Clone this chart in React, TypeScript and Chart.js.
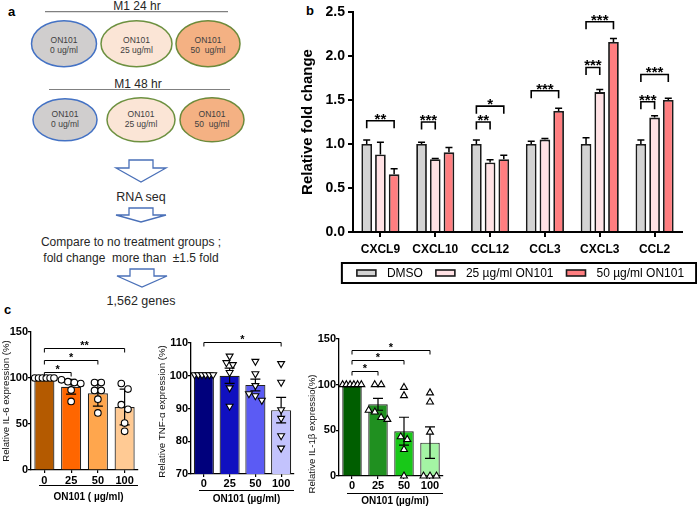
import React, { useEffect, useRef } from "react";
import { Chart, registerables } from "chart.js";

Chart.register(...registerables);

const FONT = "Arial, 'Liberation Sans', Helvetica, sans-serif";

// ---------------- Panel b data ----------------
const genes = ["CXCL9", "CXCL10", "CCL12", "CCL3", "CXCL3", "CCL2"];
const seriesNames = ["DMSO", "25 µg/ml ON101", "50 µg/ml ON101"];
const dmsoValues = [1, 1, 1, 1, 1, 1];
const on25Values = [0.88, 0.826, 0.79, 1.05, 1.59, 1.3];
const on50Values = [0.655, 0.905, 0.826, 1.375, 2.16, 1.5];
const dmsoErr = [0.045, 0.02, 0.045, 0.03, 0.07, 0.045];
const on25Err = [0.14, 0.01, 0.03, 0.012, 0.03, 0.02];
const on50Err = [0.065, 0.055, 0.045, 0.03, 0.04, 0.02];
const bColors = ["#d3d3d3", "#ffe1e4", "#ff7e80"];
// [gene index, from series, to series, bracket height, label]
const bBrackets: [number, number, number, number, string][] = [
  [0, 0, 2, 1.265, "**"],
  [1, 0, 1, 1.25, "***"],
  [2, 0, 1, 1.25, "**"],
  [2, 0, 2, 1.43, "*"],
  [3, 0, 2, 1.605, "***"],
  [4, 0, 1, 1.87, "***"],
  [4, 0, 2, 2.39, "***"],
  [5, 0, 1, 1.48, "***"],
  [5, 0, 2, 1.79, "***"],
];
const bSeries = [dmsoValues, on25Values, on50Values];
const bErrors = [dmsoErr, on25Err, on50Err];

// ---------------- Panel c data ----------------
const doses = ["0", "25", "50", "100"];

const il6Means = [100, 90.5, 83.5, 68.5];
const il6Err = [0, 8, 14, 19.5];
const il6Points = [
  [100, 100, 100, 100, 100, 100],
  [98, 96, 95, 94, 87, 74.5],
  [95, 95, 86.5, 86.5, 77, 62],
  [94, 88, 71, 66, 51, 42],
];
const il6Brackets: [number, number, number, string][] = [
  [0, 1, 107, "*"],
  [0, 2, 120, "*"],
  [0, 3, 132.5, "**"],
];
const il6Colors = ["#b45a00", "#ff6600", "#ffa64d", "#ffca94"];

const tnfMeans = [100.3, 100, 97.2, 89.5];
const tnfErr = [0, 2.3, 1.8, 3.9];
const tnfPoints = [
  [100.3, 100.3, 100.3, 100.3, 100.3, 100.3],
  [106, 104, 103.4, 101, 96.3, 90.7],
  [104.4, 100.6, 97, 94.5, 93.9, 92.5],
  [103.7, 98, 89.6, 87, 81.7, 77.9],
];
const tnfBrackets: [number, number, number, string][] = [[0, 3, 110.2, "*"]];
const tnfColors = ["#00007c", "#1010c0", "#5b5bf4", "#c3c3fd"];

const il1bMeans = [99.5, 78.5, 49, 36.5];
const il1bErr = [0, 6.5, 15.3, 17.3];
const il1bPoints = [
  [100, 100, 100, 100, 100, 100],
  [100, 100, 72, 70, 64, 62],
  [97, 88, 43, 40, 29, 0],
  [91, 81, 48, 0, 0, 0],
];
const il1bBrackets: [number, number, number, string][] = [
  [0, 1, 115, "*"],
  [0, 2, 127, "*"],
  [0, 3, 138, "*"],
];
const il1bColors = ["#005e00", "#209020", "#18c818", "#a4f4a4"];

// spread overlapping points horizontally (beeswarm-like), offsets in category units
function swarm(values: number[], thr: number, maxSpan = 0.72, step = 0.25) {
  const idx = values.map((_, i) => i).sort((a, b) => values[b] - values[a]);
  const offsets = new Array(values.length).fill(0);
  const clusters: number[][] = [];
  let cur: number[] = [];
  for (const i of idx) {
    if (cur.length && Math.abs(values[cur[cur.length - 1]] - values[i]) >= thr) {
      clusters.push(cur);
      cur = [];
    }
    cur.push(i);
  }
  if (cur.length) clusters.push(cur);
  for (const c of clusters) {
    const n = c.length;
    if (n < 2) continue;
    const s = Math.min(step, maxSpan / (n - 1));
    c.forEach((i, k) => (offsets[i] = (k - (n - 1) / 2) * s));
  }
  return offsets;
}

// ---------------- Panel b ----------------
const bPlugin = {
  id: "bdecor",
  afterDatasetsDraw(chart: any) {
    const ctx = chart.ctx;
    const y = chart.scales.y;
    ctx.save();
    ctx.strokeStyle = "#000";
    ctx.lineWidth = 1.5;
    bSeries.forEach((vals, d) => {
      const meta = chart.getDatasetMeta(d);
      vals.forEach((v, i) => {
        const el = meta.data[i];
        const yt = y.getPixelForValue(v + bErrors[d][i]);
        ctx.beginPath();
        ctx.moveTo(el.x, el.y);
        ctx.lineTo(el.x, yt);
        ctx.moveTo(el.x - 3.5, yt);
        ctx.lineTo(el.x + 3.5, yt);
        ctx.stroke();
      });
    });
    ctx.fillStyle = "#000";
    ctx.lineWidth = 1.6;
    ctx.font = `bold 15px ${FONT}`;
    ctx.textAlign = "center";
    ctx.textBaseline = "alphabetic";
    bBrackets.forEach(([g, s1, s2, h, label]) => {
      const x1 = chart.getDatasetMeta(s1).data[g].x;
      const x2 = chart.getDatasetMeta(s2).data[g].x;
      const yy = y.getPixelForValue(h);
      ctx.beginPath();
      ctx.moveTo(x1, yy + 7.5);
      ctx.lineTo(x1, yy);
      ctx.lineTo(x2, yy);
      ctx.lineTo(x2, yy + 7.5);
      ctx.stroke();
      ctx.fillText(label, (x1 + x2) / 2, yy + 3);
    });
    ctx.restore();
  },
  afterDraw(chart: any) {
    const ctx = chart.ctx;
    const a = chart.chartArea;
    ctx.save();
    ctx.font = `12px ${FONT}`;
    const sw = 19, gapText = 11, gapItem = 13, padL = 15, padR = 12;
    const widths = seriesNames.map((n) => ctx.measureText(n).width);
    const total = widths.reduce((s, w) => s + sw + gapText + w, 0) + gapItem * (seriesNames.length - 1);
    const boxW = padL + total + padR;
    const cx = (a.left + a.right) / 2 + 1.5;
    const boxL = cx - boxW / 2;
    const boxT = a.bottom + 31;
    const boxH = 20;
    ctx.strokeStyle = "#000";
    ctx.lineWidth = 2;
    ctx.strokeRect(boxL, boxT, boxW, boxH);
    const mid = boxT + boxH / 2;
    let x = boxL + padL;
    ctx.textAlign = "left";
    ctx.textBaseline = "middle";
    seriesNames.forEach((n, i) => {
      ctx.fillStyle = bColors[i];
      ctx.fillRect(x, mid - 3, sw, 6);
      ctx.lineWidth = 1.6;
      ctx.strokeStyle = "#1a1a1a";
      ctx.strokeRect(x, mid - 3, sw, 6);
      ctx.fillStyle = "#000";
      ctx.fillText(n, x + sw + gapText, mid + 0.5);
      x += sw + gapText + widths[i] + gapItem;
    });
    ctx.restore();
  },
};

function PanelB() {
  const ref = useRef<HTMLCanvasElement>(null);
  useEffect(() => {
    const axisGrid = {
      display: true,
      drawOnChartArea: false,
      drawTicks: true,
      tickLength: 5,
      color: "#000",
      lineWidth: 2,
      offset: false,
    };
    const chart = new Chart(ref.current as HTMLCanvasElement, {
      type: "bar",
      data: {
        labels: genes,
        datasets: bSeries.map((vals, d) => ({
          label: seriesNames[d],
          data: vals,
          backgroundColor: bColors[d],
          borderColor: "#1a1a1a",
          borderWidth: 1.8,
          categoryPercentage: 0.75,
          barPercentage: 0.78,
        })),
      },
      options: {
        responsive: false,
        animation: false,
        events: [],
        layout: { padding: { left: 0, right: 15, top: 12, bottom: 0 } },
        plugins: { legend: { display: false }, tooltip: { enabled: false } },
        scales: {
          x: {
            type: "category",
            offset: true,
            grid: axisGrid,
            border: { display: true, color: "#000", width: 2 },
            ticks: {
              color: "#000",
              font: { family: FONT, size: 12, weight: "bold" },
              padding: 5,
              maxRotation: 0,
              autoSkip: false,
            },
            afterFit: (s: any) => {
              s.height = 58;
            },
          },
          y: {
            min: 0,
            max: 2.5,
            grid: axisGrid,
            border: { display: true, color: "#000", width: 2 },
            ticks: {
              stepSize: 0.5,
              color: "#000",
              padding: 3,
              font: { family: FONT, size: 14, weight: "bold" },
              callback: (v: any) => Number(v).toFixed(1),
            },
            title: {
              display: true,
              text: "Relative fold change",
              color: "#000",
              font: { family: FONT, size: 15, weight: "bold" },
              padding: { top: 9, bottom: 0 },
            },
            afterFit: (s: any) => {
              s.width = 63;
            },
          },
        },
      } as any,
      plugins: [bPlugin],
    } as any);
    return () => chart.destroy();
  }, []);
  return (
    <canvas
      ref={ref}
      width={407}
      height={290}
      style={{ position: "absolute", left: 290, top: 0, width: 407, height: 290 }}
    />
  );
}

// ---------------- Panel c ----------------
type CCfg = {
  left: number;
  top: number;
  width: number;
  height: number;
  pad: { left: number; right: number; top: number; bottom: number };
  yWidth: number;
  xHeight: number;
  yMin: number;
  yMax: number;
  yStep: number;
  means: number[];
  errs: number[];
  points: number[][];
  brackets: [number, number, number, string][];
  colors: string[];
  pointStyle: string;
  pointRotation: number;
  pointRadius: number;
  yTitle: string;
  yTitleX: number;
  yTitleDy: number;
  xTitle: string;
  lineDy: number;
  titleDy: number;
  barPct: number;
  xTickPad: number;
};

function makeCPlugin(cfg: CCfg) {
  return {
    id: "cdecor",
    afterDatasetDraw(chart: any, args: any) {
      if (args.index !== 0) return;
      const ctx = chart.ctx;
      const x = chart.scales.x;
      const y = chart.scales.y;
      ctx.save();
      ctx.strokeStyle = "#000";
      ctx.lineWidth = 1.2;
      cfg.means.forEach((m, i) => {
        const e = cfg.errs[i];
        if (!e) return;
        const px = x.getPixelForValue(i);
        const yt = y.getPixelForValue(m + e);
        const yb = y.getPixelForValue(m - e);
        ctx.beginPath();
        ctx.moveTo(px, yt);
        ctx.lineTo(px, yb);
        ctx.moveTo(px - 5, yt);
        ctx.lineTo(px + 5, yt);
        ctx.moveTo(px - 5, yb);
        ctx.lineTo(px + 5, yb);
        ctx.stroke();
      });
      ctx.restore();
    },
    afterDraw(chart: any) {
      const ctx = chart.ctx;
      const a = chart.chartArea;
      const x = chart.scales.x;
      const y = chart.scales.y;
      ctx.save();
      ctx.strokeStyle = "#000";
      ctx.fillStyle = "#000";
      ctx.lineWidth = 1;
      ctx.font = `bold 11px ${FONT}`;
      ctx.textAlign = "center";
      ctx.textBaseline = "alphabetic";
      cfg.brackets.forEach(([from, to, h, label]) => {
        const x1 = x.getPixelForValue(from);
        const x2 = x.getPixelForValue(to);
        const yy = Math.round(y.getPixelForValue(h)) + 0.5;
        ctx.beginPath();
        ctx.moveTo(x1, yy + 4);
        ctx.lineTo(x1, yy);
        ctx.lineTo(x2, yy);
        ctx.lineTo(x2, yy + 4);
        ctx.stroke();
        ctx.fillText(label, (x1 + x2) / 2, yy);
      });
      // underline + x title
      const lx1 = a.left + 8;
      const lx2 = a.right;
      const ly = Math.round(a.bottom + cfg.lineDy) + 0.5;
      ctx.lineWidth = 1.2;
      ctx.beginPath();
      ctx.moveTo(lx1, ly);
      ctx.lineTo(lx2, ly);
      ctx.stroke();
      ctx.font = `bold 10px ${FONT}`;
      ctx.textBaseline = "middle";
      ctx.fillText(cfg.xTitle, (lx1 + lx2) / 2, a.bottom + cfg.titleDy);
      // y title
      ctx.font = `9.7px ${FONT}`;
      ctx.fillStyle = "#111";
      ctx.translate(cfg.yTitleX, (a.top + a.bottom) / 2 + cfg.yTitleDy);
      ctx.rotate(-Math.PI / 2);
      ctx.fillText(cfg.yTitle, 0, 0);
      ctx.restore();
    },
  };
}

function CChart({ cfg }: { cfg: CCfg }) {
  const ref = useRef<HTMLCanvasElement>(null);
  useEffect(() => {
    const thr = 0.045 * (cfg.yMax - cfg.yMin);
    const pts: { x: number; y: number }[] = [];
    cfg.points.forEach((vals, g) => {
      const offs = swarm(vals, thr);
      vals.forEach((v, k) => pts.push({ x: g + offs[k], y: v }));
    });
    const barData = cfg.means.map((m, i) => ({ x: i, y: m }));
    const axisGrid = {
      display: true,
      drawOnChartArea: false,
      drawTicks: true,
      tickLength: 3,
      color: "#000",
      lineWidth: 1.2,
      offset: false,
    };
    const chart = new Chart(ref.current as HTMLCanvasElement, {
      type: "bar",
      data: {
        datasets: [
          {
            type: "bar",
            data: barData,
            backgroundColor: cfg.colors,
            borderColor: "#222",
            borderWidth: 1.2,
            categoryPercentage: 1,
            barPercentage: cfg.barPct,
            grouped: false,
            order: 1,
          },
          {
            type: "scatter",
            data: pts,
            order: 0,
            pointStyle: cfg.pointStyle,
            rotation: cfg.pointRotation,
            pointRadius: cfg.pointRadius,
            pointBackgroundColor: "#fff",
            pointBorderColor: "#000",
            pointBorderWidth: 1.1,
            showLine: false,
            clip: false,
          },
        ],
      },
      options: {
        responsive: false,
        animation: false,
        events: [],
        layout: { padding: cfg.pad },
        plugins: { legend: { display: false }, tooltip: { enabled: false } },
        scales: {
          x: {
            type: "linear",
            min: -0.5,
            max: doses.length - 0.5,
            offset: false,
            grid: axisGrid,
            border: { display: true, color: "#000", width: 1.3 },
            afterBuildTicks: (s: any) => {
              s.ticks = doses.map((_, i) => ({ value: i }));
            },
            ticks: {
              color: "#000",
              font: { family: FONT, size: 11, weight: "bold" },
              padding: cfg.xTickPad,
              maxRotation: 0,
              autoSkip: false,
              callback: (v: any) => doses[Math.round(Number(v))],
            },
            afterFit: (s: any) => {
              s.height = cfg.xHeight;
            },
          },
          y: {
            min: cfg.yMin,
            max: cfg.yMax,
            grid: axisGrid,
            border: { display: true, color: "#000", width: 1.3 },
            ticks: {
              stepSize: cfg.yStep,
              color: "#000",
              padding: 0,
              font: { family: FONT, size: 11, weight: "bold" },
            },
            afterFit: (s: any) => {
              s.width = cfg.yWidth;
            },
          },
        },
      } as any,
      plugins: [makeCPlugin(cfg)],
    } as any);
    return () => chart.destroy();
  }, []);
  return (
    <canvas
      ref={ref}
      width={cfg.width}
      height={cfg.height}
      style={{ position: "absolute", left: cfg.left, top: cfg.top, width: cfg.width, height: cfg.height }}
    />
  );
}

const il6Cfg: CCfg = {
  left: 0, top: 320, width: 150, height: 189,
  pad: { left: 0, right: 12, top: 12, bottom: 0 },
  yWidth: 31, xHeight: 39, yMin: 0, yMax: 150, yStep: 50,
  means: il6Means, errs: il6Err, points: il6Points, brackets: il6Brackets, colors: il6Colors,
  pointStyle: "circle", pointRotation: 0, pointRadius: 3.3,
  yTitle: "Relative IL-6 expression (%)", yTitleX: 6, yTitleDy: 0,
  xTitle: "ON101 ( µg/ml)", lineDy: 15, titleDy: 27, barPct: 0.75, xTickPad: 1,
};
const tnfCfg: CCfg = {
  left: 150, top: 320, width: 155, height: 189,
  pad: { left: 0, right: 11, top: 23, bottom: 0 },
  yWidth: 41, xHeight: 35, yMin: 70, yMax: 110, yStep: 10,
  means: tnfMeans, errs: tnfErr, points: tnfPoints, brackets: tnfBrackets, colors: tnfColors,
  pointStyle: "triangle", pointRotation: 180, pointRadius: 4,
  yTitle: "Relative TNF-α expression (%)", yTitleX: 12, yTitleDy: 3,
  xTitle: "ON101 (µg/ml)", lineDy: 16.4, titleDy: 25.7, barPct: 0.78, xTickPad: 0,
};
const il1bCfg: CCfg = {
  left: 300, top: 320, width: 160, height: 189,
  pad: { left: 0, right: 17, top: 19, bottom: 0 },
  yWidth: 39, xHeight: 33, yMin: 0, yMax: 150, yStep: 50,
  means: il1bMeans, errs: il1bErr, points: il1bPoints, brackets: il1bBrackets, colors: il1bColors,
  pointStyle: "triangle", pointRotation: 0, pointRadius: 4,
  yTitle: "Relative IL-1β expressio(%)", yTitleX: 12.7, yTitleDy: 26.5,
  xTitle: "ON101 (µg/ml)", lineDy: 16.7, titleDy: 25.7, barPct: 0.75, xTickPad: 0,
};

// ---------------- Panel a (diagram) ----------------
function Arrow({ cx, y0, y1, y2 }: { cx: number; y0: number; y1: number; y2: number }) {
  const pts = [
    [cx - 12, y0], [cx + 12, y0], [cx + 12, y1], [cx + 25, y1],
    [cx, y2], [cx - 25, y1], [cx - 12, y1],
  ].map((p) => p.join(",")).join(" ");
  return <polygon points={pts} fill="#fff" stroke="#4a70b8" strokeWidth={1.3} />;
}

function Oval({ cx, cy, rx, ry, fill, stroke, dose, d1, d2 }: any) {
  return (
    <g>
      <ellipse cx={cx} cy={cy} rx={rx} ry={ry} fill={fill} stroke={stroke} strokeWidth={1.5} />
      <text x={cx} y={cy + d1} textAnchor="middle" fontSize={8.5} fill="#404040">ON101</text>
      <text x={cx} y={cy + d2} textAnchor="middle" fontSize={8.5} fill="#404040" style={{ whiteSpace: "pre" }}>{dose}</text>
    </g>
  );
}

function Diagram() {
  const txt = "#262626";
  return (
    <svg width={697} height={509} style={{ position: "absolute", left: 0, top: 0 }} fontFamily={FONT}>
      <text x={8} y={15.5} fontSize={13} fontWeight="bold" fill="#000">a</text>
      <text x={306} y={15} fontSize={13} fontWeight="bold" fill="#000">b</text>
      <text x={4} y={314} fontSize={13} fontWeight="bold" fill="#000">c</text>

      <text x={137} y={10} textAnchor="middle" fontSize={12} fill={txt}>M1 24 hr</text>
      <line x1={45} y1={11.7} x2={228} y2={11.7} stroke="#808080" strokeWidth={1.2} />
      <Oval cx={64} cy={43.7} rx={32.5} ry={23} fill="#d0cece" stroke="#4472c4" dose="0 ug/ml" d1={-1} d2={9} />
      <Oval cx={136.5} cy={43.7} rx={35.5} ry={23} fill="#fbe5d6" stroke="#6d9140" dose="25 ug/ml" d1={-1} d2={9} />
      <Oval cx={208} cy={43.7} rx={32} ry={23} fill="#f4b183" stroke="#6d8a3a" dose="50  ug/ml" d1={-1} d2={9} />

      <text x={138} y={88} textAnchor="middle" fontSize={12} fill={txt}>M1 48 hr</text>
      <line x1={49} y1={89.5} x2={230} y2={89.5} stroke="#808080" strokeWidth={1.2} />
      <Oval cx={65} cy={119.7} rx={32} ry={21} fill="#d0cece" stroke="#4472c4" dose="0 ug/ml" d1={-3} d2={7} />
      <Oval cx={141} cy={119.7} rx={34} ry={22} fill="#fbe5d6" stroke="#6d9140" dose="25 ug/ml" d1={-3} d2={7} />
      <Oval cx={212} cy={119.7} rx={32} ry={22} fill="#f4b183" stroke="#6d8a3a" dose="50  ug/ml" d1={-3} d2={7} />

      <Arrow cx={141} y0={160} y1={168} y2={182} />
      <text x={141} y={201} textAnchor="middle" fontSize={12.5} fill={txt}>RNA seq</text>
      <Arrow cx={141} y0={208} y1={215} y2={222} />
      <text x={131} y={246} textAnchor="middle" fontSize={12} fill={txt} style={{ whiteSpace: "pre" }}>Compare to no treatment groups ;</text>
      <text x={131} y={261.5} textAnchor="middle" fontSize={12} fill={txt} style={{ whiteSpace: "pre" }}>fold change  more than  ±1.5 fold</text>
      <Arrow cx={142} y0={269} y1={276} y2={287} />
      <text x={141} y={305} textAnchor="middle" fontSize={12.5} fill={txt}>1,562 genes</text>
    </svg>
  );
}

export default function App() {
  return (
    <div
      style={{
        position: "fixed",
        left: 0,
        top: 0,
        width: 697,
        height: 509,
        background: "#fff",
        overflow: "hidden",
        fontFamily: FONT,
      }}
    >
      <Diagram />
      <PanelB />
      <CChart cfg={il6Cfg} />
      <CChart cfg={tnfCfg} />
      <CChart cfg={il1bCfg} />
    </div>
  );
}
